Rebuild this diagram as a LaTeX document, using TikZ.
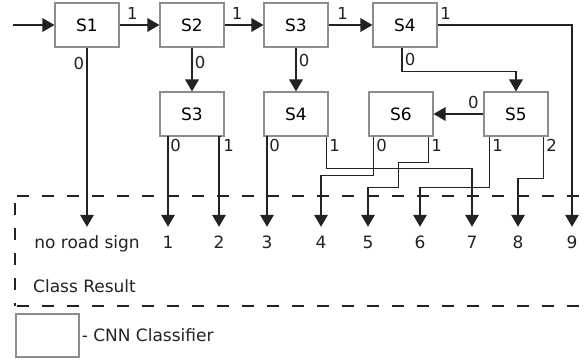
\documentclass[tikz,border=0pt]{standalone}
\usepackage{fontspec}
\setmainfont{DejaVu Sans}
\usepackage{tikz}
\usetikzlibrary{arrows.meta,positioning}

\definecolor{wirecol}{HTML}{222222}
\definecolor{boxcol}{HTML}{8C8C8C}

\begin{document}
\begin{tikzpicture}[
x=1pt,y=-1pt,
classifier/.style={
rectangle,
draw=boxcol,
line width=1.1pt,
fill=white,
minimum width=64pt,
minimum height=44pt,
font=\fontsize{17}{20}\selectfont
},
wire/.style={
line width=1.7pt,
draw=wirecol,
-{Triangle[length=12pt,width=13.5pt]}
},
lbl/.style={
font=\fontsize{16.5}{19}\selectfont,
text=wirecol,
inner sep=2pt
},
cls/.style={
font=\fontsize{17}{20}\selectfont,
text=wirecol,
anchor=base,
inner xsep=0pt,
inner ysep=10pt,
text height=12pt,
text depth=3pt
},
frame/.style={
line width=1.4pt,
draw=wirecol,
dash pattern=on 12pt off 13pt
}
]

\useasboundingbox (0,0) rectangle (587,363);

% classifiers, top row
\node[classifier] (s1) at (87,25) {S1};
\node[classifier] (s2) at (192,25) {S2};
\node[classifier] (s3) at (296,25) {S3};
\node[classifier] (s4) at (405,25) {S4};

% classifiers, second row
\node[classifier] (s3b) at (192,114) {S3};
\node[classifier] (s4b) at (296,114) {S4};
\node[classifier] (s6) at (401,114) {S6};
\node[classifier] (s5) at (516,114) {S5};

% class results
\foreach \x/\t [count=\i from 0] in {87/no road sign,168/1,219/2,267/3,321/4,368/5,420/6,472/7,518/8,572/9}
\node[cls] (c\i) at (\x,249) {\t};

\coordinate (in) at (13,25);

% main chain
\draw[wire] (in) -- (s1);
\draw[wire] (s1) -- node[lbl, pos=0.32, above=3pt] {1} (s2);
\draw[wire] (s2) -- node[lbl, pos=0.32, above=3pt] {1} (s3);
\draw[wire] (s3) -- node[lbl, pos=0.32, above=3pt] {1} (s4);
\draw[wire] (s4.east) -| node[lbl, pos=0.03, above=3pt] {1} (c9.north);

% branches
\draw[wire] (s1.south) -- node[lbl, pos=0.09, left] {0} (c0.north);
\draw[wire] (s2.south) -- node[lbl, pos=0.33, right] {0} (s3b.north);
\draw[wire] (s3.south) -- node[lbl, pos=0.29, right] {0} (s4b.north);
\draw[wire] ([xshift=-3pt]s4.south) |- node[lbl, pos=0.25, right] {0} ([yshift=20pt]s5.north) -- (s5.north);
\draw[wire] (s5.west) -- node[lbl, pos=0.2, above=2pt] {0} (s6.east);

% outputs to class results
\draw[wire] ([xshift=8pt]s3b.south west) -| node[lbl, pos=0, below right] {0} (c1.north);
\draw[wire] ([xshift=-4pt]s3b.south east) -| node[lbl, pos=0, below right] {1} (c2.north);
\draw[wire] ([xshift=3pt]s4b.south west) -| node[lbl, pos=0, below right] {0} (c3.north);
\draw[wire] ([xshift=-2pt]s4b.south east) -- node[lbl, pos=0, below right] {1} ++(0,32) -| (c7.north);
\draw[wire] ([xshift=5pt]s6.south west) -- node[lbl, pos=0, below right] {0} ++(0,39) -| (c4.north);
\draw[wire] ([xshift=-5pt]s6.south east) -- node[lbl, pos=0, below right] {1} ++(0,26) -| ++(-30,25) -| (c5.north);
\draw[wire] ([xshift=6pt]s5.south west) -- node[lbl, pos=0, below right] {1} ++(0,51) -| (c6.north);
\draw[wire] ([xshift=-5pt]s5.south east) -- node[lbl, pos=0, below right] {2} ++(0,42) -| (c8.north);

% result area
\draw[frame] (17,196) -- (587,196);
\draw[frame] (15,203) -- (15,306);
\draw[frame] (17,306) -- (587,306);
\node[lbl, anchor=base west, font=\fontsize{17}{20}\selectfont] (res) at (31,293) {Class Result};

% legend
\node[classifier, minimum width=63pt, minimum height=43pt] (key) at (47.5,335.5) {};
\node[lbl, anchor=west, font=\fontsize{17}{20}\selectfont, right=0pt of key] (keytext) {- CNN Classifier};

\end{tikzpicture}
\end{document}
